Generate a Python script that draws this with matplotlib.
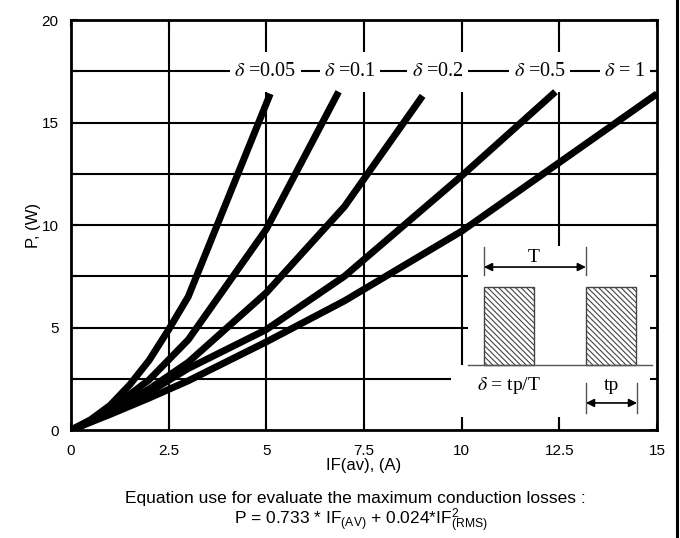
import matplotlib
matplotlib.use("Agg")
import matplotlib.pyplot as plt
from matplotlib.patches import Rectangle
from matplotlib.lines import Line2D
import numpy as np

plt.rcParams['font.family'] = ['Liberation Sans', 'DejaVu Sans']
plt.rcParams['mathtext.fontset'] = 'custom'
plt.rcParams['mathtext.rm'] = 'Liberation Sans'
plt.rcParams['mathtext.it'] = 'Liberation Sans:italic'
plt.rcParams['hatch.linewidth'] = 0.8

# curves: IF(av) (A) -> P (W)
if_d005 = [0, 0.5, 1.0, 1.5, 2.0, 2.5, 3.0, 5.1]
p_d005 = [0, 0.5, 1.2, 2.2, 3.4, 4.9, 6.5, 16.4]
if_d01 = [0, 0.5, 1.0, 2.0, 3.0, 5.0, 6.85]
p_d01 = [0, 0.45, 1.0, 2.45, 4.4, 9.8, 16.5]
if_d02 = [0, 0.5, 1.0, 2.0, 3.0, 5.0, 7.0, 9.0]
p_d02 = [0, 0.42, 0.9, 2.0, 3.3, 6.7, 10.9, 16.3]
if_d05 = [0, 0.5, 1.0, 2.0, 3.0, 5.0, 7.0, 10.0, 12.4]
p_d05 = [0, 0.4, 0.85, 1.85, 3.0, 4.9, 7.5, 12.4, 16.5]
if_d1 = [0, 0.5, 1.0, 2.0, 3.0, 5.0, 7.0, 10.0, 15.0]
p_d1 = [0, 0.38, 0.76, 1.56, 2.4, 4.3, 6.3, 9.7, 16.4]

labels = [r'$\delta$ =0.05', r'$\delta$ =0.1', r'$\delta$ =0.2',
          r'$\delta$ =0.5', r'$\delta$ = 1']
label_x = [4.97, 7.14, 9.38, 12.0, 14.18]

xticks = [0, 2.5, 5, 7.5, 10, 12.5, 15]
xticklabels = ['0', '2.5', '5', '7.5', '10', '12.5', '15']
yticks = [0, 5, 10, 15, 20]
ygrid = [2.5, 5, 7.5, 10, 12.5, 15, 17.5]

fig = plt.figure(figsize=(6.8, 5.38), dpi=100)
ax = fig.add_axes([0.1044, 0.2007, 0.8618, 0.7621])
ax.set_xlim(0, 15)
ax.set_ylim(0, 20)

# grid drawn by hand so parts of it can be masked
for x in xticks[1:-1]:
    ax.axvline(x, color='black', lw=1.5, zorder=0.9)
for y in ygrid:
    ax.axhline(y, color='black', lw=1.5, zorder=1.1)

# white band behind the delta labels (hides vertical grid lines)
ax.add_patch(Rectangle((4.0, 16.5), 11.0, 1.95, facecolor='white',
                       edgecolor='none', zorder=1.0))
# white area of the inset
ax.add_patch(Rectangle((10.16, 3.17), 4.84, 5.81, facecolor='white',
                       edgecolor='none', zorder=1.2))
ax.add_patch(Rectangle((9.73, 0.63), 5.27, 2.54, facecolor='white',
                       edgecolor='none', zorder=1.2))

for xs, ps in [(if_d005, p_d005), (if_d01, p_d01), (if_d02, p_d02),
               (if_d05, p_d05), (if_d1, p_d1)]:
    ax.plot(xs, ps, color='black', lw=5, solid_capstyle='butt',
            solid_joinstyle='round', zorder=3)

for lab, lx in zip(labels, label_x):
    ax.text(lx, 17.5, lab, ha='center', va='center', fontsize=14.5,
            family='Liberation Serif', math_fontfamily='stix', zorder=5,
            bbox=dict(boxstyle='square,pad=0.22', facecolor='white',
                      edgecolor='none'))

# inset: pulse train sketch
for x0 in [10.57, 13.18]:
    ax.add_patch(Rectangle((x0, 3.17), 1.29, 3.81, facecolor='white',
                           edgecolor='#444444', lw=1.0, hatch='\\\\\\\\\\\\',
                           zorder=3))
ax.plot([10.16, 14.87], [3.17, 3.17], color='#555555', lw=1.0, zorder=3)
for x0 in [10.57, 13.18]:
    ax.plot([x0, x0], [7.56, 8.93], color='#555555', lw=1.0, zorder=3)
ax.annotate('', xy=(13.18, 7.95), xytext=(10.57, 7.95),
            arrowprops=dict(arrowstyle='<|-|>', color='black', lw=1.2,
                            shrinkA=0, shrinkB=0, mutation_scale=12), zorder=4)
ax.text(11.85, 8.4, 'T', ha='center', va='center', fontsize=14,
        family='Liberation Serif', zorder=4)
for x0 in [13.18, 14.49]:
    ax.plot([x0, x0], [0.83, 2.29], color='#555555', lw=1.0, zorder=3)
ax.annotate('', xy=(14.49, 1.32), xytext=(13.18, 1.32),
            arrowprops=dict(arrowstyle='<|-|>', color='black', lw=1.2,
                            shrinkA=0, shrinkB=0, mutation_scale=12), zorder=4)
ax.text(13.83, 2.15, 'tp', ha='center', va='center', fontsize=14,
        family='Liberation Serif', zorder=4)
ax.text(11.21, 2.15, r'$\delta$ = tp/T', ha='center', va='center', fontsize=14,
        family='Liberation Serif', math_fontfamily='stix', zorder=4)

ax.set_xticks(xticks)
ax.set_xticklabels(xticklabels)
ax.set_yticks(yticks)
ax.set_yticks(ygrid, minor=True)
ax.set_xticks([], minor=True)
ax.tick_params(which='both', direction='in', length=5, width=1.5,
               top=True, right=True, labelsize=11, colors='black')
ax.tick_params(axis='x', pad=10)
ax.tick_params(axis='y', pad=9)
for s in ax.spines.values():
    s.set_linewidth(2)
ax.set_axisbelow(False)

ax.set_xlabel('IF(av), (A)', fontsize=12, labelpad=0)
ax.set_ylabel('P, (W)', fontsize=12, labelpad=0)

fig.text(0.522, 0.073, 'Equation use for evaluate the maximum conduction losses :',
         ha='center', va='center', fontsize=12.5)
fig.text(0.53, 0.031,
         r'P = 0.733 * IF$_{\mathrm{(AV)}}$ + 0.024*IF$^{2}_{\mathrm{(RMS)}}$',
         ha='center', va='center', fontsize=12.5)

fig.add_artist(Line2D([0.996, 0.996], [0, 1], color='black', lw=2.2,
                      transform=fig.transFigure))

fig.savefig('out.png', dpi=100)
